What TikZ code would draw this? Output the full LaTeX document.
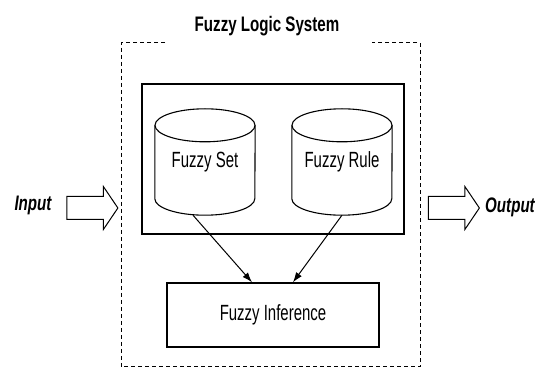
\documentclass[tikz,border=0pt]{standalone}
\usepackage{fontspec}
\setmainfont{Liberation Sans}
\usetikzlibrary{arrows.meta,shapes.arrows}
\newcommand{\narrow}[1]{\scalebox{0.68}[1]{#1}}
\begin{document}
\begin{tikzpicture}[x=1pt,y=-1pt,font=\fontsize{22}{24}\selectfont]
    \tikzstyle{store}=[rectangle,inner sep=0pt,minimum width=100pt,minimum height=106pt]
    \tikzstyle{drum}=[line width=1.1pt]
    \tikzstyle{block}=[rectangle,draw,inner sep=0pt]
    \tikzstyle{fat}=[single arrow,draw,line width=1pt,minimum height=51pt,inner xsep=0pt,inner ysep=11pt,single arrow head extend=10pt,single arrow tip angle=112]
    \useasboundingbox (0,0) rectangle (542,374);
    \node (title) at (267,26) {\scalebox{0.72}[1]{\fontsize{21}{23}\selectfont\bfseries Fuzzy Logic System}};
    \draw[dash pattern=on 4pt off 3pt,line width=1pt] (165,43) -- (121,43) -- (121,367) -- (420,367) -- (420,43) -- (372,43);
    \node [block,line width=1.6pt,minimum width=262pt,minimum height=150pt] (kbase) at (273,159) {};
    \node [store] (fset) at (205,162) {\narrow{Fuzzy Set}};
    \node [store] (frule) at (342,162) {\narrow{Fuzzy Rule}};
    \foreach \c in {fset,frule} {
      \draw[drum] ([yshift=-16.5pt]\c.north) ellipse [x radius=50pt,y radius=16.5pt];
      \draw[drum] ([yshift=-16.5pt]\c.north west) -- ([yshift=16.5pt]\c.south west)
        arc [start angle=180,end angle=360,x radius=50pt,y radius=16.5pt] -- ([yshift=-16.5pt]\c.north east);
    }
    \node [block,line width=1.4pt,minimum width=212pt,minimum height=64pt] (finf) at (273,315) {\narrow{Fuzzy Inference}};
    \draw[-{Latex[length=10pt,width=7pt]},line width=1pt] ([xshift=-12pt]fset.south) -- ([xshift=-21pt]finf.north);
    \draw[-{Latex[length=10pt,width=7pt]},line width=1pt] (frule.south) -- ([xshift=20pt]finf.north);
    \node [fat] (inarrow) at (88.5,208) {};
    \node [fat] (outarrow) at (450,208) {};
    \node (input) at (33,205) {\scalebox{0.72}[1]{\fontsize{21}{23}\selectfont\bfseries\itshape Input}};
    \node (output) at (510,207) {\scalebox{0.72}[1]{\fontsize{21}{23}\selectfont\bfseries\itshape Output}};
\end{tikzpicture}
\end{document}
